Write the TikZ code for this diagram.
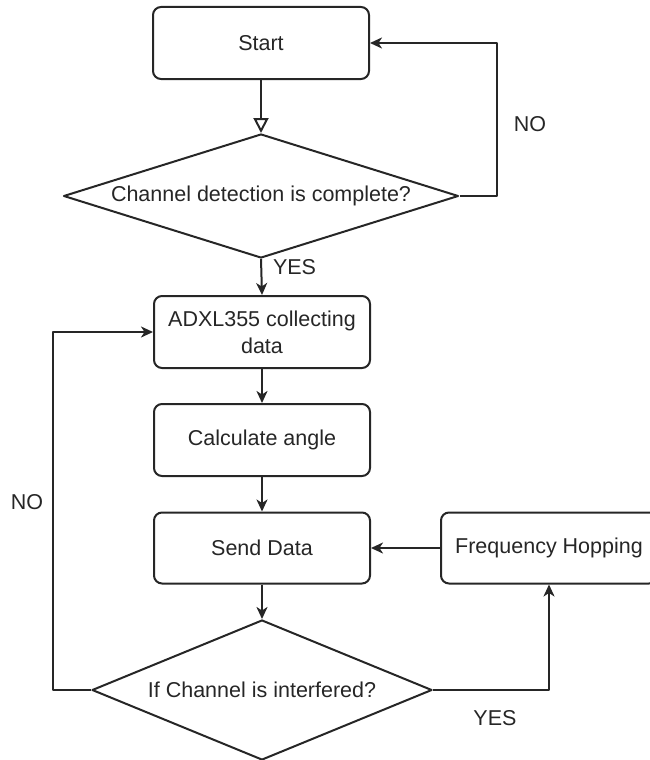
\documentclass[tikz,border=0pt]{standalone}
\usepackage{fontspec}
\setmainfont{Liberation Sans}
\usetikzlibrary{arrows.meta,shapes.geometric}
\tikzset{
	box/.style={draw,rounded corners=8pt,minimum width=216pt,minimum height=72pt,align=center,inner sep=0pt},
	decision/.style={draw,diamond,inner sep=0pt,align=center},
	lbl/.style={inner sep=0pt}
}
\begin{document}
\begin{tikzpicture}[x=1pt,y=-1pt,line join=round,line width=2pt,font=\fontsize{21.5}{27}\selectfont,
		>={Stealth[length=12pt,width=11pt,inset=3.5pt]},color={black!85}]
	\useasboundingbox (0,0) rectangle (650,760);
	\node[box] (start) at (261,43) {Start};
	\node[decision,aspect=3.185,minimum width=395pt,minimum height=124pt] (check) at (261,196) {Channel detection is complete?};
	\node[box] (collect) at (262,332) {ADXL355 collecting\\data};
	\node[box] (angle) at (262,440) {Calculate angle};
	\node[box,minimum height=71pt] (send) at (262,548) {Send Data};
	\node[box,minimum width=216pt,minimum height=71pt] (hop) at (549,548) {Frequency Hopping};
	\node[decision,aspect=2.43,minimum width=340pt,minimum height=140pt] (interf) at (262,690) {If Channel is interfered?};
	\draw[-{Triangle[open,length=15pt,width=15pt]}] (start) -- (check);
	\draw[->] (check.east) -- ++(37,0) |- (start.east);
	\node[lbl] (no1) at (530,124) {NO};
	\draw[->] (check.south) -- (collect.north);
	\node[lbl,anchor=west] (yes1) at (272,267) {YES};
	\draw[->] (collect) -- (angle);
	\draw[->] (angle) -- (send);
	\draw[->] (hop.west) -- (send.east);
	\draw[->] (send) -- (interf.north);
	\draw[->] (interf.east) -| (hop.south);
	\node[lbl] (yes2) at (495,718) {YES};
	\draw[->] (interf.west) -- ++(-38,0) |- (collect.west);
	\node[lbl] (no2) at (27,502) {NO};
\end{tikzpicture}
\end{document}
